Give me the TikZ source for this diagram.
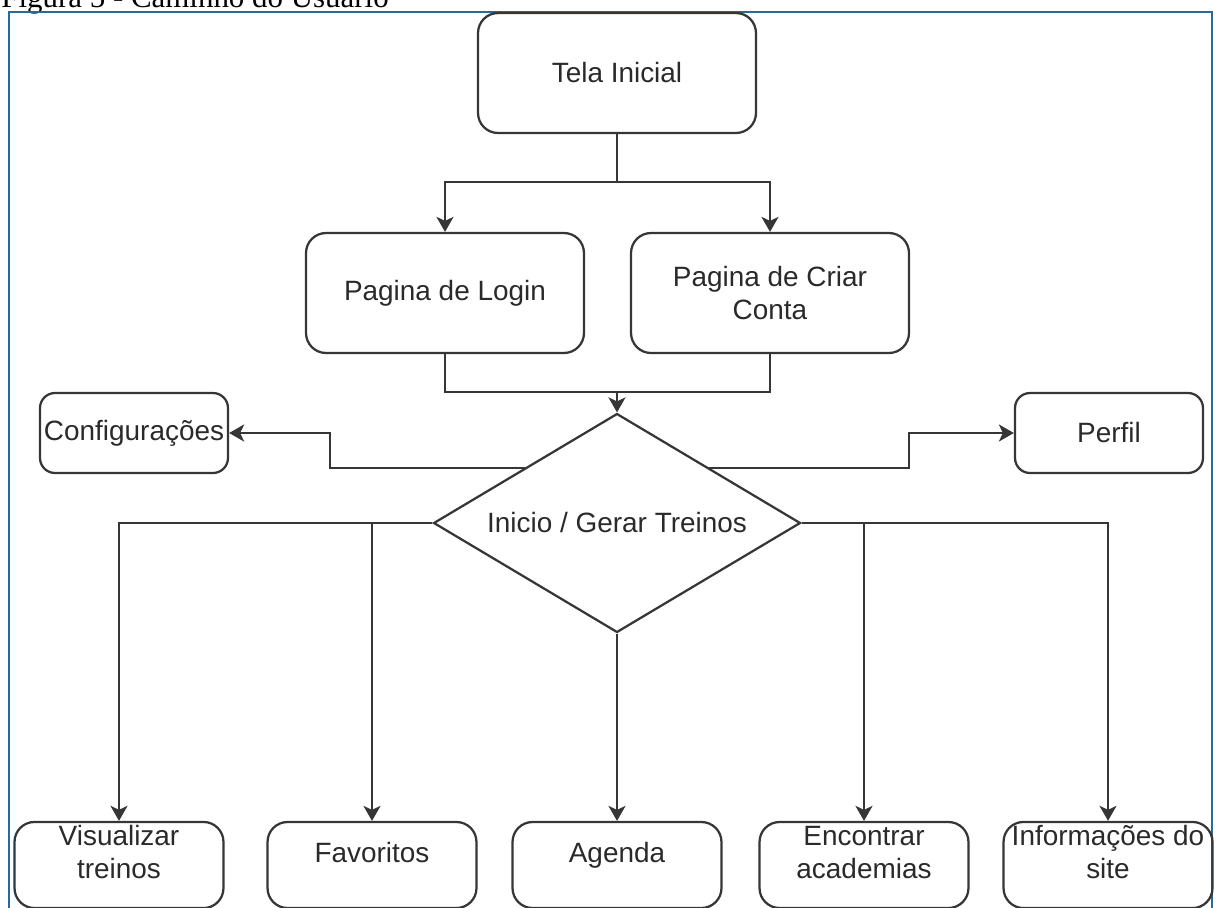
\documentclass[tikz,border=0pt]{standalone}
\usepackage{fontspec}
\setmainfont{Liberation Sans}
\newfontfamily\captionserif{Liberation Serif}
\usetikzlibrary{positioning,shapes.geometric,arrows.meta}

\definecolor{framecol}{HTML}{2A6A94}
\definecolor{linecol}{HTML}{363636}
\definecolor{textcol}{HTML}{2A2A2A}

\begin{document}
\begin{tikzpicture}[
  x=0.02cm, y=-0.02cm,
  every node/.style={font=\fontsize{15.9pt}{18.7pt}\selectfont, text=textcol},
  screen/.style={draw=linecol, line width=0.045cm, rounded corners=0.4cm, align=center,
                 minimum width=5.56cm, minimum height=2.4cm, inner sep=2pt},
  side/.style={screen, rounded corners=0.3cm, minimum width=3.76cm, minimum height=1.6cm},
  page/.style={screen, minimum width=4.18cm, minimum height=1.72cm, text depth=0.52cm},
  decision/.style={draw=linecol, line width=0.045cm, diamond, aspect=1.68, inner sep=0pt,
                   minimum width=7.34cm, minimum height=4.38cm},
  link/.style={draw=linecol, line width=0.045cm},
  arrow/.style={link, -{Stealth[length=0.3cm, width=0.34cm, inset=0.08cm]}},
]

\useasboundingbox (0,0) rectangle (1217,907);
\clip (0,0) rectangle (1217,907);

% ---- caption and frame -----------------------------------------------
\node[anchor=base west, inner sep=0pt, text=black,
      font=\captionserif\fontsize{17.6pt}{20pt}\selectfont] (caption) at (1,7)
      {Figura 5 - Caminho do Usuário};
\draw[framecol, line width=0.05cm] (9,12) rectangle (1212,940);

% ---- entry screens ---------------------------------------------------
\node[screen] (inicial) at (617,73)   {Tela Inicial};
\node[screen] (login)   at (445,293)  {Pagina de Login};
\node[screen] (criar)   at (770,293)  {Pagina de Criar\\Conta};

% ---- main screen and side pages --------------------------------------
\node[decision] (inicio) at (617,523) {Inicio / Gerar Treinos};
\node[side] (config) at (134,433)     {Configurações};
\node[side] (perfil) at (1109,433)    {Perfil};

% ---- bottom row ------------------------------------------------------
\node[page] (visual)    at (119,865)  {Visualizar\\treinos};
\node[page] (favoritos) at (372,865)  {Favoritos};
\node[page] (agenda)    at (617,865)  {Agenda};
\node[page] (academias) at (864,865)  {Encontrar\\academias};
\node[page] (info)      at (1108,865) {Informações do\\site};

% ---- connectors ------------------------------------------------------
\coordinate (split) at (617,182);
\coordinate (join)  at (617,392);

\draw[link] (inicial) -- (split);
\draw[arrow] (split) -| (login);
\draw[arrow] (split) -| (criar);

\draw[link] (login) |- (join);
\draw[link] (criar) |- (join);
\draw[arrow] (join) -- (inicio);

\draw[arrow] (inicio.north west) -- ++(-195,0) |- (config);
\draw[arrow] (inicio.north east) -- ++(200,0) |- (perfil);

\draw[arrow] (inicio.west) -| (visual);
\draw[arrow] (inicio.west) -| (favoritos);
\draw[arrow] (inicio) -- (agenda);
\draw[arrow] (inicio.east) -| (academias);
\draw[arrow] (inicio.east) -| (info);

\end{tikzpicture}
\end{document}
